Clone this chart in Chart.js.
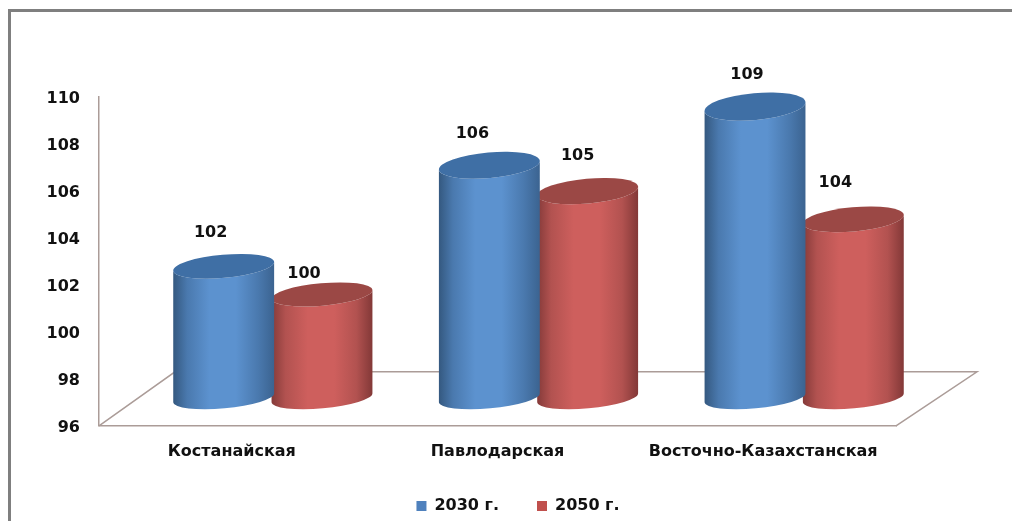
<!DOCTYPE html>
<html lang="ru">
<head>
<meta charset="utf-8">
<title>Chart</title>
<style>
  html, body { margin: 0; padding: 0; background: #fff; overflow: hidden; }
  #wrap { position: relative; width: 1012px; height: 521px; overflow: hidden; }
  #frame { position: absolute; left: 8px; top: 9px; width: 1100px; height: 600px; border: 3px solid #7f7f7f; }
  canvas { position: absolute; left: 0; top: 0; }
</style>
<script src="https://cdn.jsdelivr.net/npm/chart.js@4"></script>
</head>
<body>
<div id="wrap">
  <div id="frame"></div>
  <canvas id="chart" width="1012" height="521"></canvas>
</div>
<script>
const categories = ['Костанайская', 'Павлодарская', 'Восточно-Казахстанская'];
const seriesNames = ['2030 г.', '2050 г.'];
// heights
const heights2030 = [101.6, 105.9, 108.4];
const heights2050 = [100.4, 104.8, 103.6];
// numbers printed above the cylinders
const printed2030 = [102, 106, 109];
const printed2050 = [100, 105, 104];
const labelNudge2030 = [[-13, -33], [-17, -31], [-8, -32]];
const labelNudge2050 = [[-18, -21], [-10, -35], [-18, -36]];

const FONT = '"DejaVu Sans"';
const TEXT = '#111';
const AXIS = '#ab9c98';
const DEPTH_X = 41;
const DEPTH_Y = 28;

const looks = [
  { edge: '#34587f', soft: '#4a79ae', mid: '#5c92cf', rim: '#3b6390', top: '#3f6fa5' },
  { edge: '#843a39', soft: '#b25250', mid: '#ce5f5d', rim: '#823837', top: '#9b4845' },
];

function drawCylinder(ctx, bar, look, baseY) {
  const w = bar.width + 3;
  const cx = bar.x + DEPTH_X;
  const topY = bar.y - DEPTH_Y;
  const rx = w / 2;
  const tilt = -0.09;
  const baseRy = 10.5;
  const topRy = 10 + (baseY - topY) * 0.012;

  const grad = ctx.createLinearGradient(cx - rx, 0, cx + rx, 0);
  grad.addColorStop(0, look.edge);
  grad.addColorStop(0.14, look.soft);
  grad.addColorStop(0.36, look.mid);
  grad.addColorStop(0.62, look.mid);
  grad.addColorStop(0.84, look.soft);
  grad.addColorStop(1, look.rim);

  ctx.save();
  ctx.fillStyle = grad;
  ctx.beginPath();
  ctx.ellipse(cx, topY, rx, topRy, tilt, Math.PI, 0, true);
  ctx.ellipse(cx, baseY, rx, baseRy, tilt, 0, Math.PI, false);
  ctx.closePath();
  ctx.fill();

  ctx.fillStyle = look.top;
  ctx.beginPath();
  ctx.ellipse(cx, topY, rx, topRy, tilt, 0, Math.PI * 2);
  ctx.fill();
  ctx.restore();
}

const cylinderPlugin = {
  id: 'cylinders',
  afterLayout(chart) {
    // legend sits centred under the whole frame, not under the plot
    chart.legend.left += 50;
    chart.legend.right += 50;
    chart.legend.top -= 9;
    chart.legend.bottom -= 9;
  },
  beforeDatasetsDraw(chart) {
    const { ctx, chartArea } = chart;
    const { left, right, bottom } = chartArea;
    ctx.save();
    ctx.strokeStyle = AXIS;
    ctx.lineWidth = 1.5;
    ctx.beginPath();
    ctx.moveTo(left, bottom);
    ctx.lineTo(left + 76, bottom - 54);
    ctx.lineTo(right + 81, bottom - 54);
    ctx.lineTo(right, bottom);
    ctx.stroke();
    ctx.restore();
  },
  beforeDatasetDraw(chart, args) {
    const baseY = chart.chartArea.bottom - DEPTH_Y;
    chart.getDatasetMeta(args.index).data.forEach((bar) => {
      drawCylinder(chart.ctx, bar, looks[args.index], baseY);
    });
    return false;
  },
  afterDatasetsDraw(chart) {
    const { ctx } = chart;
    const printed = [printed2030, printed2050];
    const nudges = [labelNudge2030, labelNudge2050];
    ctx.save();
    ctx.font = `bold 16px ${FONT}`;
    ctx.fillStyle = TEXT;
    ctx.textAlign = 'center';
    ctx.textBaseline = 'middle';
    chart.data.datasets.forEach((dataset, d) => {
      chart.getDatasetMeta(d).data.forEach((bar, i) => {
        const x = bar.x + DEPTH_X + nudges[d][i][0];
        const y = bar.y - DEPTH_Y + nudges[d][i][1];
        ctx.fillText(String(printed[d][i]), x, y);
      });
    });
    ctx.restore();
  },
};

new Chart(document.getElementById('chart'), {
  type: 'bar',
  data: {
    labels: categories,
    datasets: [
      { label: seriesNames[0], data: heights2030, backgroundColor: '#4f81bd' },
      { label: seriesNames[1], data: heights2050, backgroundColor: '#c0504d' },
    ],
  },
  options: {
    responsive: false,
    animation: false,
    categoryPercentage: 0.74,
    barPercentage: 1,
    layout: { padding: { left: 40, right: 116, top: 97, bottom: -12 } },
    plugins: {
      title: { display: false },
      tooltip: { enabled: false },
      legend: {
        position: 'bottom',
        labels: {
          boxWidth: 10,
          boxHeight: 10,
          padding: 38,
          color: TEXT,
          font: { family: FONT, size: 16, weight: 'bold' },
        },
      },
    },
    scales: {
      x: {
        grid: { display: false },
        border: { color: AXIS, width: 1.5 },
        ticks: { color: TEXT, padding: 8, maxRotation: 0, font: { family: FONT, size: 16, weight: 'bold' } },
      },
      y: {
        min: 96,
        max: 110,
        afterFit(scale) { scale.width = 59; },
        grid: { display: false, drawTicks: false },
        border: { color: AXIS, width: 1.5 },
        ticks: { stepSize: 2, color: TEXT, padding: 19, labelOffset: 2, font: { family: FONT, size: 16, weight: 'bold' } },
      },
    },
  },
  plugins: [cylinderPlugin],
});
</script>
</body>
</html>
